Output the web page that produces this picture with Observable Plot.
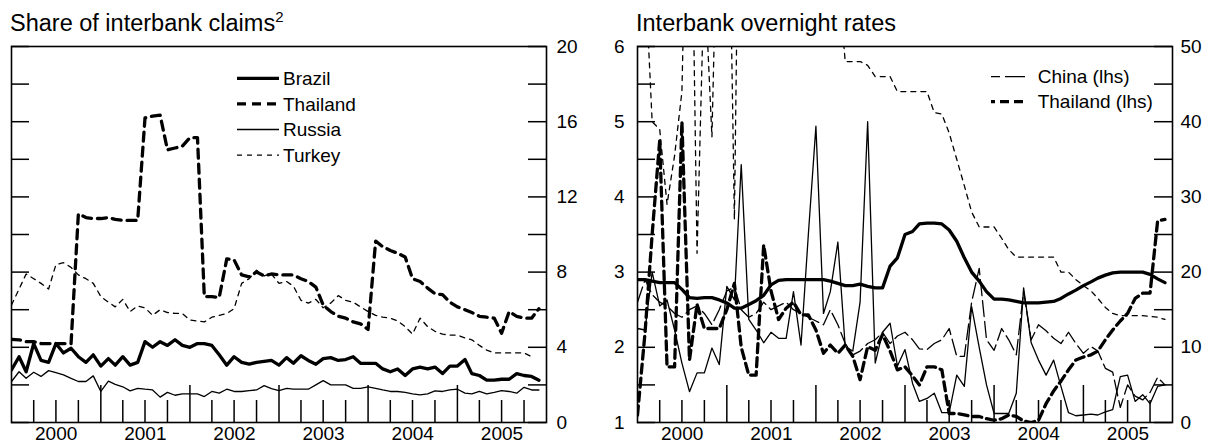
<!DOCTYPE html>
<html><head><meta charset="utf-8">
<script src="https://cdn.jsdelivr.net/npm/d3@7"></script>
<script src="https://cdn.jsdelivr.net/npm/@observablehq/plot@0.6"></script>
<style>
body{margin:0;background:#fff;}
#wrap{position:relative;width:1210px;height:443px;overflow:hidden;background:#fff;}
.panel{position:absolute;top:0;}
#overlay{position:absolute;left:0;top:0;pointer-events:none;}
</style></head>
<body><div id="wrap"></div>
<script>
const FONT = '"Liberation Sans", Arial, Helvetica, sans-serif';

// ---- Left panel: share of interbank claims (%), monthly Jan 2000 .. Dec 2005
const brazilShare = [2.8,3.5,2.7,4.2,3.3,3.2,4.2,3.7,3.95,3.5,3.2,3.6,3.0,3.4,3.05,3.5,3.05,3.2,4.3,4.0,4.3,4.1,4.4,4.1,4.0,4.2,4.2,4.1,3.6,3.05,3.5,3.2,3.1,3.2,3.25,3.3,3.05,3.45,3.15,3.55,3.3,3.1,3.4,3.45,3.3,3.35,3.5,3.15,3.15,3.15,2.85,2.7,2.85,2.5,2.85,2.95,2.85,2.95,2.6,3.0,3.0,3.35,2.6,2.5,2.25,2.25,2.3,2.3,2.6,2.5,2.45,2.25];
const thailandShare = [4.42,4.4,4.3,4.3,4.2,4.2,4.2,4.2,4.2,11.1,10.9,10.85,10.85,10.9,10.8,10.75,10.75,10.75,16.2,16.3,16.35,14.5,14.6,14.7,15.15,15.15,6.7,6.7,6.65,8.7,8.65,7.85,7.75,8.0,7.8,7.9,7.85,7.85,7.85,7.65,7.5,7.2,6.25,5.9,5.65,5.55,5.35,5.25,4.95,9.65,9.35,9.15,9.0,8.8,7.65,7.5,7.15,6.85,6.8,6.4,6.15,6.0,5.85,5.65,5.6,5.55,4.75,5.9,5.65,5.55,5.55,6.05];
const russiaShare = [2.18,2.7,2.35,2.67,2.45,2.76,2.65,2.53,2.35,2.18,2.18,2.48,1.65,2.2,2.03,1.9,1.68,1.82,1.77,1.73,1.35,1.6,1.45,1.52,1.52,1.52,1.38,1.65,1.56,1.77,1.65,1.65,1.7,1.73,1.96,1.8,1.7,1.82,1.77,1.77,1.77,2.0,2.23,2.0,2.0,2.0,1.82,1.82,1.9,1.82,1.73,1.65,1.65,1.6,1.52,1.47,1.52,1.68,1.65,1.73,1.77,1.56,1.52,1.65,1.52,1.6,1.7,1.65,1.56,1.87,1.73,1.73];
const turkeyShare = [6.25,7.1,7.9,7.65,7.4,7.1,8.4,8.5,8.25,7.85,7.65,7.4,6.7,6.4,6.15,6.55,5.9,6.2,6.1,5.7,6.0,5.85,5.8,5.8,5.45,5.4,5.35,5.6,5.7,5.8,6.05,7.4,7.65,8.1,7.8,7.9,7.4,7.5,7.25,6.5,6.35,6.55,6.1,6.35,6.75,6.5,6.4,6.15,5.9,5.7,5.6,5.55,5.4,5.1,4.7,5.55,5.1,4.85,4.7,4.65,4.65,4.5,4.4,4.1,3.85,3.7,3.7,3.7,3.7,3.7,3.5,null];

// ---- Right panel: interbank overnight rates (%)
// lhs series
const chinaRate = [2.6,2.9,2.7,2.6,2.55,2.45,2.4,2.5,2.55,2.45,2.3,2.5,2.75,2.8,2.5,2.4,2.45,2.6,2.5,2.55,2.6,2.5,2.45,2.4,2.35,2.3,2.5,2.3,2.05,1.9,1.95,2.05,2.1,2.2,2.05,2.15,2.2,2.1,1.98,1.97,2.05,2.1,2.25,1.88,1.88,2.6,3.05,2.1,1.96,2.25,2.1,1.9,2.74,2.1,2.3,2.22,2.12,2.05,2.2,2.05,1.92,2.01,1.95,1.72,1.67,1.2,1.5,1.35,1.3,1.4,1.6,1.5];
const thailandRate = [1.1,2.2,3.5,4.75,1.74,1.74,5.0,1.83,2.57,2.25,2.25,2.25,2.5,2.85,2.0,1.63,1.63,3.36,2.75,2.37,2.52,2.6,2.43,2.43,2.23,1.92,2.03,1.92,2.03,1.88,1.57,2.01,1.96,2.17,1.95,1.7,1.74,1.62,1.5,1.74,1.74,1.7,1.12,1.12,1.1,1.08,1.08,1.05,1.03,1.05,1.1,1.08,1.02,1.0,1.03,1.25,1.42,1.55,1.7,1.83,1.87,1.9,1.95,2.1,2.23,2.35,2.45,2.65,2.72,2.72,3.68,3.7];
// rhs series
const brazilRate = [19.0,19.0,18.8,18.6,18.6,18.6,17.7,16.6,16.5,16.6,16.6,16.3,15.9,15.2,15.2,15.7,16.2,16.9,18.3,18.9,19.0,19.0,19.0,19.0,19.0,19.0,18.8,18.5,18.2,18.2,18.4,18.1,17.9,17.9,20.8,21.9,25.0,25.4,26.4,26.5,26.5,26.4,25.6,24.1,21.9,20.0,18.8,17.4,16.4,16.4,16.3,16.1,15.9,15.9,15.9,16.0,16.1,16.5,17.1,17.6,18.2,18.7,19.2,19.6,19.9,20.0,20.0,20.0,20.0,19.7,19.1,18.6];
const russiaRate = [12.5,12.3,20.0,15.5,16.3,12.3,7.9,4.1,6.6,6.6,9.9,7.7,18.1,16.3,34.3,13.7,12.3,10.6,12.0,11.2,11.2,17.4,10.3,25.0,39.4,14.5,17.4,24.0,10.1,9.5,16.0,40.0,7.9,12.0,13.2,7.5,9.7,5.2,2.8,3.2,3.9,1.3,1.3,6.3,4.8,15.4,10.0,5.0,1.2,1.2,1.2,3.9,17.9,10.6,8.3,6.3,8.3,4.8,1.3,0.9,1.0,1.1,1.0,1.4,1.7,6.1,6.3,2.8,3.7,2.5,4.8,5.0];
const turkeyRate = [65,60,40,39,29,35.5,44,90,22.5,60,38,80,90,27,100,100,90,80,80,70,70,65,65,60,60,60,60,60,48,48,48,47.5,46,46,46,44,44,44,44,44,41.2,41,38.5,35,31.5,28,26,26,26,24.5,23,22,22,22,22,22,22,20,20,19,18.2,17.5,16.5,15.3,14.5,14.2,14.2,14.2,14.2,14.1,14.0,13.7];

// ---- axes
const leftTickValues = [0,2,4,6,8,10,12,14,16,18,20];
const leftLabelValues = [0,4,8,12,16,20];
const rightTickValues = [1,1.5,2,2.5,3,3.5,4,4.5,5,5.5,6];
const lhsLabelValues = [1,2,3,4,5,6];
const rhsLabelValues = [0,10,20,30,40,50];
const years = [2000,2001,2002,2003,2004,2005];

const T0 = new Date(Date.UTC(2000,0,1)), T1 = new Date(Date.UTC(2006,0,1));
const months = d3.utcMonth.range(T0, T1);
const quarterTicks = d3.utcMonth.every(3).range(T0, T1).filter(d => d.getUTCMonth() !== 0);
const yearTicks = years.slice(1).map(y => new Date(Date.UTC(y,0,1)));
const midYears = years.map(y => new Date((Date.UTC(y,0,1) + Date.UTC(y+1,0,1)) / 2));
const rhsToLhs = v => 1 + v / 10;

function series(vals, f = v => v) {
  return vals.map((v, i) => ({date: months[i], value: v == null ? null : f(v)})).filter(d => d.value != null);
}

const H = 443, MT = 46, MB = 21, PH = H - MT - MB;
const common = {height: H, marginTop: MT, marginBottom: MB,
  style: {fontFamily: FONT, fontSize: "19px", color: "black", background: "transparent", overflow: "visible"}};

function frameTicks(tickVals, PW) {
  return [
    Plot.ruleY(tickVals, {insetRight: PW - 18, stroke: "black", strokeWidth: 1.5}),
    Plot.ruleY(tickVals, {insetLeft: PW - 18, stroke: "black", strokeWidth: 1.5}),
    Plot.ruleX(quarterTicks, {insetTop: PH - 22, stroke: "black", strokeWidth: 1.5}),
    Plot.ruleX(yearTicks, {insetTop: PH - 37, stroke: "black", strokeWidth: 1.5}),
    Plot.axisX({anchor: "bottom", ticks: midYears, tickFormat: d => String(d.getUTCFullYear()), tickSize: 0, tickPadding: 4, fontSize: 19, label: null})
  ];
}

const thick = 3.3, thin = 1.3;

// Left panel
const W1 = 600, ML1 = 11, MR1 = 54, PW1 = W1 - ML1 - MR1;
const left = Plot.plot({
  ...common, width: W1, marginLeft: ML1, marginRight: MR1,
  x: {type: "utc", domain: [T0, T1]},
  y: {domain: [0, 20]},
  marks: [
    ...frameTicks(leftTickValues, PW1),
    Plot.axisY({anchor: "right", ticks: leftLabelValues, tickFormat: d => String(d), tickSize: 0, tickPadding: 10, fontSize: 19, label: null}),
    Plot.line(series(turkeyShare), {x: "date", y: "value", stroke: "black", strokeWidth: thin, strokeDasharray: "5,5", clip: true}),
    Plot.line(series(russiaShare), {x: "date", y: "value", stroke: "black", strokeWidth: thin, clip: true}),
    Plot.line(series(brazilShare), {x: "date", y: "value", stroke: "black", strokeWidth: thick, clip: true}),
    Plot.line(series(thailandShare), {x: "date", y: "value", stroke: "black", strokeWidth: thick, strokeDasharray: "9,6", clip: true}),
    Plot.frame({stroke: "black", strokeWidth: 1.6})
  ]
});

// Right panel
const W2 = 610, ML2 = 37, MR2 = 38, PW2 = W2 - ML2 - MR2;
const right = Plot.plot({
  ...common, width: W2, marginLeft: ML2, marginRight: MR2,
  x: {type: "utc", domain: [T0, T1]},
  y: {domain: [1, 6]},
  marks: [
    ...frameTicks(rightTickValues, PW2),
    Plot.axisY({anchor: "left", ticks: lhsLabelValues, tickFormat: d => String(Math.round(d)), tickSize: 0, tickPadding: 13, fontSize: 19, label: null}),
    Plot.axisY({anchor: "right", ticks: rhsLabelValues.map(rhsToLhs), tickFormat: d => String(Math.round((d - 1) * 10)), tickSize: 0, tickPadding: 8, fontSize: 19, label: null}),
    Plot.line(series(turkeyRate, rhsToLhs), {x: "date", y: "value", stroke: "black", strokeWidth: thin, strokeDasharray: "5,5", clip: true}),
    Plot.line(series(russiaRate, rhsToLhs), {x: "date", y: "value", stroke: "black", strokeWidth: thin, clip: true}),
    Plot.line(series(chinaRate), {x: "date", y: "value", stroke: "black", strokeWidth: thin, strokeDasharray: "16,5", clip: true}),
    Plot.line(series(brazilRate, rhsToLhs), {x: "date", y: "value", stroke: "black", strokeWidth: thick, clip: true}),
    Plot.line(series(thailandRate), {x: "date", y: "value", stroke: "black", strokeWidth: thick, strokeDasharray: "9,5", clip: true}),
    Plot.frame({stroke: "black", strokeWidth: 1.6})
  ]
});

const wrap = document.getElementById("wrap");
left.classList.add("panel"); left.style.left = "0px";
right.classList.add("panel"); right.style.left = "600px";
wrap.appendChild(left); wrap.appendChild(right);

// Titles and legends overlay
const svg = d3.select(wrap).append("svg").attr("id", "overlay")
  .attr("width", 1210).attr("height", 443)
  .style("font-family", FONT);

const t1 = svg.append("text").attr("x", 10).attr("y", 31).attr("font-size", 23.5).attr("fill", "black");
t1.append("tspan").text("Share of interbank claims");
t1.append("tspan").attr("font-size", 15).attr("dy", -9).text("2");
svg.append("text").attr("x", 636).attr("y", 31).attr("font-size", 23.5).attr("fill", "black").text("Interbank overnight rates");

const legendLeft = [
  {label: "Brazil", width: thick, dash: null},
  {label: "Thailand", width: thick, dash: "9,6"},
  {label: "Russia", width: thin, dash: null},
  {label: "Turkey", width: thin, dash: "5,5"}
];
legendLeft.forEach((d, i) => {
  const y = 78.3 + i * 25.6;
  svg.append("line").attr("x1", 237).attr("x2", 279).attr("y1", y).attr("y2", y)
    .attr("stroke", "black").attr("stroke-width", d.width).attr("stroke-dasharray", d.dash);
  svg.append("text").attr("x", 283).attr("y", y).attr("dy", "0.35em").attr("font-size", 19).text(d.label);
});

const legendRight = [
  {label: "China (lhs)", width: thin, dash: "20,5", offset: 11},
  {label: "Thailand (lhs)", width: thick, dash: "9,5", offset: 5}
];
legendRight.forEach((d, i) => {
  const y = 76.7 + i * 25;
  svg.append("line").attr("x1", 991).attr("x2", 1028).attr("y1", y).attr("y2", y)
    .attr("stroke", "black").attr("stroke-width", d.width).attr("stroke-dasharray", d.dash)
    .attr("stroke-dashoffset", d.offset);
  svg.append("text").attr("x", 1037.7).attr("y", y).attr("dy", "0.35em").attr("font-size", 19).text(d.label);
});
</script>
</body></html>
